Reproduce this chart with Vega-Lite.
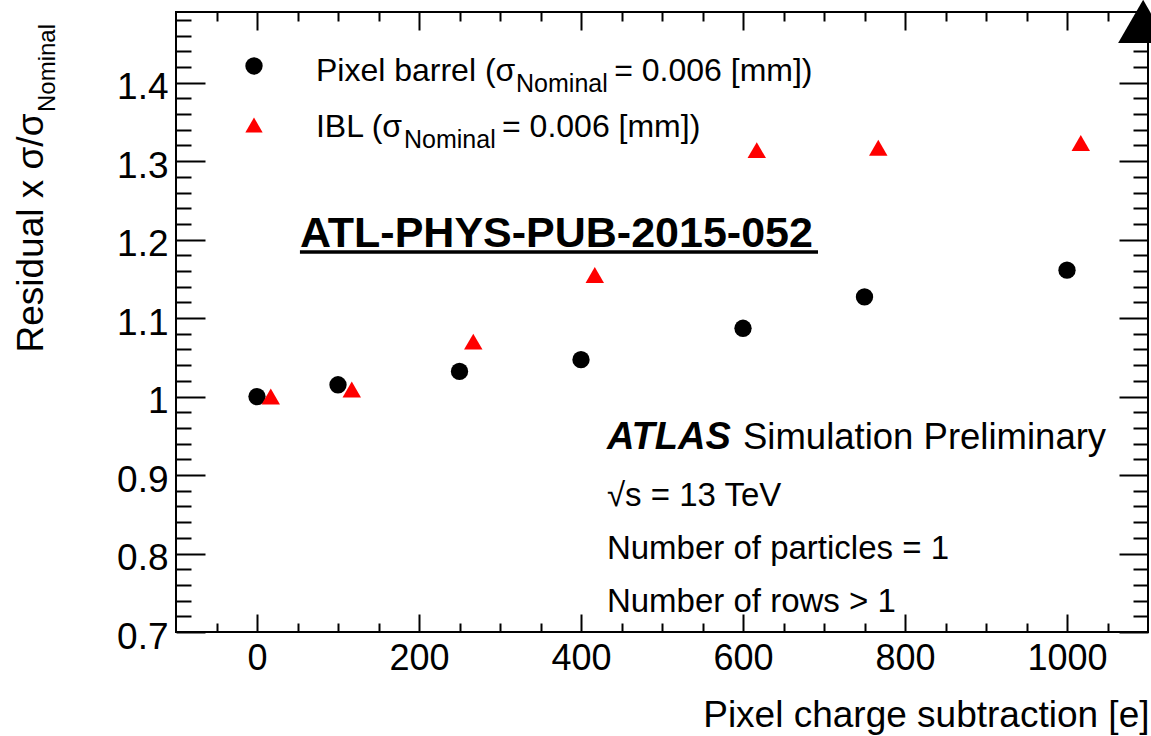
{
  "$schema": "https://vega.github.io/schema/vega-lite/v6.json",
  "width": 972,
  "height": 620,
  "autosize": {"type": "none"},
  "padding": {"left": 176, "top": 12, "right": 3, "bottom": 104},
  "background": "white",
  "config": {
    "font": "Liberation Sans",
    "view": {"stroke": "black", "strokeWidth": 2},
    "axis": {
      "grid": false,
      "domain": false,
      "labelColor": "black",
      "tickColor": "black",
      "tickWidth": 2,
      "titleColor": "black",
      "titleFontWeight": "normal",
      "labelFontSize": 35,
      "labelFlush": false,
      "labelOverlap": false
    },
    "text": {"color": "black", "align": "left", "baseline": "alphabetic"}
  },
  "datasets": {
    "pixelBarrel": [
      {"detector": "Pixel barrel", "charge": 0, "ratio": 1.0},
      {"detector": "Pixel barrel", "charge": 100, "ratio": 1.015},
      {"detector": "Pixel barrel", "charge": 250, "ratio": 1.032},
      {"detector": "Pixel barrel", "charge": 400, "ratio": 1.047},
      {"detector": "Pixel barrel", "charge": 600, "ratio": 1.087},
      {"detector": "Pixel barrel", "charge": 750, "ratio": 1.127},
      {"detector": "Pixel barrel", "charge": 1000, "ratio": 1.161}
    ],
    "ibl": [
      {"detector": "IBL", "charge": 17, "ratio": 1.0},
      {"detector": "IBL", "charge": 117, "ratio": 1.009},
      {"detector": "IBL", "charge": 267, "ratio": 1.07},
      {"detector": "IBL", "charge": 417, "ratio": 1.155},
      {"detector": "IBL", "charge": 617, "ratio": 1.314},
      {"detector": "IBL", "charge": 767, "ratio": 1.317},
      {"detector": "IBL", "charge": 1017, "ratio": 1.323}
    ],
    "legendKeys": [
      {"detector": "Pixel barrel", "x": -3.7, "y": 1.4212},
      {"detector": "IBL", "x": -3.7, "y": 1.346}
    ],
    "legendText": [
      {"x": 72.8, "y": 1.4021, "text": "Pixel barrel (σ"},
      {"x": 441, "y": 1.4021, "text": "= 0.006 [mm])"},
      {"x": 72.8, "y": 1.3307, "text": "IBL (σ"},
      {"x": 302.5, "y": 1.3307, "text": "= 0.006 [mm])"}
    ],
    "legendSub": [
      {"x": 319.8, "y": 1.3881, "text": "Nominal"},
      {"x": 181.5, "y": 1.3167, "text": "Nominal"}
    ],
    "infoLines": [
      {"x": 432, "y": 0.8605, "text": "√s = 13 TeV"},
      {"x": 432, "y": 0.793, "text": "Number of particles = 1"},
      {"x": 432, "y": 0.7255, "text": "Number of rows > 1"}
    ],
    "atlasLabel": [{"x": 432, "y": 0.9332, "text": "ATLAS"}],
    "atlasStatus": [{"x": 600, "y": 0.9332, "text": "Simulation Preliminary"}],
    "pubRef": [{"x": 53, "y": 1.1912, "text": "ATL-PHYS-PUB-2015-052"}],
    "pubRefUnderline": [{"x": 53, "x2": 692.6, "y": 1.1842}],
    "yTitleSub": [{"x": -249.4, "y": 1.3626, "text": "Nominal"}],
    "cornerMarker": [{"x": 1094, "y": 1.478}]
  },
  "layer": [
    {
      "mark": {"type": "rule", "color": "black", "strokeWidth": 1.6, "strokeDash": [7, 4]},
      "encoding": {
        "y": {"datum": 1, "type": "quantitative", "scale": {"domain": [0.7, 1.49], "nice": false, "zero": false}, "axis": null}
      }
    },
    {
      "data": {"name": "pixelBarrel"},
      "mark": {"type": "point", "shape": "circle", "filled": true, "color": "black", "opacity": 1, "size": 300},
      "encoding": {
        "x": {
          "field": "charge", "type": "quantitative",
          "scale": {"domain": [-100, 1100], "nice": false, "zero": false},
          "axis": {
            "orient": "bottom", "values": [0, 200, 400, 600, 800, 1000], "format": "d",
            "ticks": false, "labelPadding": 9, "labelFontSize": 36,
            "title": "Pixel charge subtraction [e]", "titleFontSize": 37,
            "titleX": 973, "titleY": 94, "titleAlign": "right", "titleBaseline": "alphabetic", "titleAnchor": "end"
          }
        },
        "y": {
          "field": "ratio", "type": "quantitative",
          "scale": {"domain": [0.7, 1.49], "nice": false, "zero": false},
          "axis": {
            "orient": "left", "values": [0.7, 0.8, 0.9, 1, 1.1, 1.2, 1.3, 1.4], "format": "~g",
            "ticks": false, "labelPadding": 8, "labelFontSize": 37, "labelBaseline": "alphabetic", "labelOffset": 16,
            "title": "Residual x σ/σ", "titleFontSize": 37, "titleAngle": 270,
            "titleX": -134, "titleY": 340, "titleAlign": "left", "titleBaseline": "alphabetic"
          }
        }
      }
    },
    {
      "data": {"name": "ibl"},
      "mark": {"type": "point", "shape": "triangle-up", "filled": true, "color": "#ff0000", "opacity": 1, "size": 340},
      "encoding": {
        "x": {
          "field": "charge", "type": "quantitative",
          "scale": {"domain": [-100, 1100], "nice": false, "zero": false},
          "axis": {"orient": "bottom", "values": [0, 200, 400, 600, 800, 1000], "labels": false, "tickSize": -18, "title": null}
        },
        "y": {
          "field": "ratio", "type": "quantitative",
          "scale": {"domain": [0.7, 1.49], "nice": false, "zero": false},
          "axis": {"orient": "left", "values": [0.7, 0.8, 0.9, 1, 1.1, 1.2, 1.3, 1.4], "labels": false, "tickSize": -29, "title": null}
        }
      }
    },
    {
      "data": {"name": "legendKeys"},
      "mark": {"type": "point", "filled": true, "opacity": 1, "size": 300},
      "encoding": {
        "x": {
          "field": "x", "type": "quantitative",
          "scale": {"domain": [-100, 1100], "nice": false, "zero": false},
          "axis": {"orient": "bottom", "values": [-50, 50, 100, 150, 250, 300, 350, 450, 500, 550, 650, 700, 750, 850, 900, 950, 1050], "labels": false, "tickSize": -9, "title": null}
        },
        "y": {
          "field": "y", "type": "quantitative",
          "scale": {"domain": [0.7, 1.49], "nice": false, "zero": false},
          "axis": {"orient": "left", "values": [0.72, 0.74, 0.76, 0.78, 0.82, 0.84, 0.86, 0.88, 0.92, 0.94, 0.96, 0.98, 1.02, 1.04, 1.06, 1.08, 1.12, 1.14, 1.16, 1.18, 1.22, 1.24, 1.26, 1.28, 1.32, 1.34, 1.36, 1.38, 1.42, 1.44, 1.46, 1.48], "labels": false, "tickSize": -15, "title": null}
        },
        "shape": {"field": "detector", "type": "nominal", "scale": {"domain": ["Pixel barrel", "IBL"], "range": ["circle", "triangle-up"]}, "legend": null},
        "color": {"field": "detector", "type": "nominal", "scale": {"domain": ["Pixel barrel", "IBL"], "range": ["black", "#ff0000"]}, "legend": null}
      }
    },
    {
      "data": {"name": "legendText"},
      "mark": {"type": "text", "fontSize": 32},
      "encoding": {
        "x": {
          "field": "x", "type": "quantitative",
          "scale": {"domain": [-100, 1100], "nice": false, "zero": false},
          "axis": {"orient": "top", "values": [0, 200, 400, 600, 800, 1000], "labels": false, "tickSize": -18, "title": null}
        },
        "y": {
          "field": "y", "type": "quantitative",
          "scale": {"domain": [0.7, 1.49], "nice": false, "zero": false},
          "axis": {"orient": "right", "values": [0.7, 0.8, 0.9, 1, 1.1, 1.2, 1.3, 1.4], "labels": false, "tickSize": -29, "title": null}
        },
        "text": {"field": "text"}
      }
    },
    {
      "data": {"name": "legendSub"},
      "mark": {"type": "text", "fontSize": 25},
      "encoding": {
        "x": {
          "field": "x", "type": "quantitative",
          "scale": {"domain": [-100, 1100], "nice": false, "zero": false},
          "axis": {"orient": "top", "values": [-50, 50, 100, 150, 250, 300, 350, 450, 500, 550, 650, 700, 750, 850, 900, 950, 1050], "labels": false, "tickSize": -9, "title": null}
        },
        "y": {
          "field": "y", "type": "quantitative",
          "scale": {"domain": [0.7, 1.49], "nice": false, "zero": false},
          "axis": {"orient": "right", "values": [0.72, 0.74, 0.76, 0.78, 0.82, 0.84, 0.86, 0.88, 0.92, 0.94, 0.96, 0.98, 1.02, 1.04, 1.06, 1.08, 1.12, 1.14, 1.16, 1.18, 1.22, 1.24, 1.26, 1.28, 1.32, 1.34, 1.36, 1.38, 1.42, 1.44, 1.46, 1.48], "labels": false, "tickSize": -15, "title": null}
        },
        "text": {"field": "text"}
      }
    },
    {
      "data": {"name": "infoLines"},
      "mark": {"type": "text", "fontSize": 33},
      "encoding": {
        "x": {"field": "x", "type": "quantitative", "scale": {"domain": [-100, 1100], "nice": false, "zero": false}, "axis": null},
        "y": {"field": "y", "type": "quantitative", "scale": {"domain": [0.7, 1.49], "nice": false, "zero": false}, "axis": null},
        "text": {"field": "text"}
      }
    },
    {
      "data": {"name": "atlasLabel"},
      "mark": {"type": "text", "fontSize": 38, "fontWeight": "bold", "fontStyle": "italic"},
      "encoding": {
        "x": {"field": "x", "type": "quantitative", "scale": {"domain": [-100, 1100], "nice": false, "zero": false}, "axis": null},
        "y": {"field": "y", "type": "quantitative", "scale": {"domain": [0.7, 1.49], "nice": false, "zero": false}, "axis": null},
        "text": {"field": "text"}
      }
    },
    {
      "data": {"name": "atlasStatus"},
      "mark": {"type": "text", "fontSize": 36.5},
      "encoding": {
        "x": {"field": "x", "type": "quantitative", "scale": {"domain": [-100, 1100], "nice": false, "zero": false}, "axis": null},
        "y": {"field": "y", "type": "quantitative", "scale": {"domain": [0.7, 1.49], "nice": false, "zero": false}, "axis": null},
        "text": {"field": "text"}
      }
    },
    {
      "data": {"name": "pubRef"},
      "mark": {"type": "text", "fontSize": 43, "fontWeight": "bold"},
      "encoding": {
        "x": {"field": "x", "type": "quantitative", "scale": {"domain": [-100, 1100], "nice": false, "zero": false}, "axis": null},
        "y": {"field": "y", "type": "quantitative", "scale": {"domain": [0.7, 1.49], "nice": false, "zero": false}, "axis": null},
        "text": {"field": "text"}
      }
    },
    {
      "data": {"name": "pubRefUnderline"},
      "mark": {"type": "rule", "color": "black", "strokeWidth": 3.5},
      "encoding": {
        "x": {"field": "x", "type": "quantitative", "scale": {"domain": [-100, 1100], "nice": false, "zero": false}, "axis": null},
        "x2": {"field": "x2"},
        "y": {"field": "y", "type": "quantitative", "scale": {"domain": [0.7, 1.49], "nice": false, "zero": false}, "axis": null}
      }
    },
    {
      "data": {"name": "yTitleSub"},
      "mark": {"type": "text", "fontSize": 24, "angle": 270},
      "encoding": {
        "x": {"field": "x", "type": "quantitative", "scale": {"domain": [-100, 1100], "nice": false, "zero": false}, "axis": null},
        "y": {"field": "y", "type": "quantitative", "scale": {"domain": [0.7, 1.49], "nice": false, "zero": false}, "axis": null},
        "text": {"field": "text"}
      }
    },
    {
      "data": {"name": "cornerMarker"},
      "mark": {"type": "point", "shape": "triangle-up", "filled": true, "color": "black", "opacity": 1, "size": 2500},
      "encoding": {
        "x": {"field": "x", "type": "quantitative", "scale": {"domain": [-100, 1100], "nice": false, "zero": false}, "axis": null},
        "y": {"field": "y", "type": "quantitative", "scale": {"domain": [0.7, 1.49], "nice": false, "zero": false}, "axis": null}
      }
    }
  ],
  "resolve": {"axis": {"x": "independent", "y": "independent"}}
}
